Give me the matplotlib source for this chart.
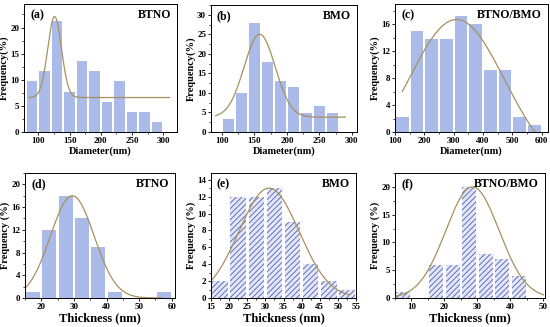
import matplotlib
matplotlib.use("Agg")
import matplotlib.pyplot as plt
import numpy as np
from matplotlib.ticker import AutoMinorLocator

plt.rcParams['font.family'] = ['Liberation Serif', 'DejaVu Serif']
plt.rcParams['font.weight'] = 'bold'
plt.rcParams['hatch.linewidth'] = 0.6

# ---- data ----
# (a) BTNO diameter
a_x = [90, 110, 130, 150, 170, 190, 210, 230, 250, 270, 290]
a_y = [9.7, 11.6, 21.2, 7.7, 13.5, 11.6, 5.8, 9.7, 3.9, 3.9, 1.9]
# (b) BMO diameter
b_x = [110, 130, 150, 170, 190, 210, 230, 250, 270]
b_y = [3.3, 9.9, 27.8, 18.0, 13.1, 11.5, 4.9, 6.6, 4.9]
# (c) BTNO/BMO diameter
c_x = [125, 175, 225, 275, 325, 375, 425, 475, 525, 575]
c_y = [2.3, 15.0, 13.8, 13.8, 17.2, 16.1, 9.2, 9.2, 2.3, 1.1]
# (d) BTNO thickness
d_x = [17.5, 22.5, 27.5, 32.5, 37.5, 42.5, 57.5]
d_y = [1, 12, 18, 14, 9, 1, 1]
# (e) BMO thickness
e_x = [17.5, 22.5, 27.5, 32.5, 37.5, 42.5, 47.5, 52.5]
e_y = [2, 12, 12, 13, 9, 4, 2, 1]
# (f) BTNO/BMO thickness
f_x = [7.5, 17.5, 22.5, 27.5, 32.5, 37.5, 42.5]
f_y = [1, 6, 6, 20, 8, 7, 4]

# gaussian fit parameters: y0, A, xc, sigma, x start, x end
a_fit = [6.6, 15.5, 126, 11, 85, 310]
b_fit = [3.8, 21.2, 158, 24, 90, 290]
c_fit = [-6, 22.7, 310, 164, 125, 600]
d_fit = [0, 18, 29.5, 6.7, 15, 57]
e_fit = [0, 13, 31, 8.3, 15, 53]
f_fit = [0, 20, 28.5, 8.1, 5, 50]

bar_col = '#aabbea'
fit_col = '#a8905e'

fig = plt.figure(figsize=(5.5, 3.27), dpi=100)
W, H = 550.0, 327.0


def make_ax(l, r, t, b):
    return fig.add_axes([l / W, 1 - b / H, (r - l) / W, (b - t) / H])


def draw(ax, x, y, width, fit, xlim, ylim, xticks, yticks, label, name,
         xlabel, ylabel, xlsize, hatch=False):
    if hatch:
        ax.bar(x, y, width=width, color='#e2e6f8', edgecolor='#5060b0',
               hatch='//////', linewidth=0)
    else:
        ax.bar(x, y, width=width, color=bar_col, linewidth=0)
    y0, A, xc, s, x1, x2 = fit
    xx = np.linspace(x1, x2, 300)
    ax.plot(xx, y0 + A * np.exp(-(xx - xc) ** 2 / (2 * s ** 2)),
            color=fit_col, lw=0.9)
    ax.set_xlim(xlim)
    ax.set_ylim(ylim)
    ax.set_xticks(xticks)
    ax.set_yticks(yticks)
    ax.xaxis.set_minor_locator(AutoMinorLocator(2))
    ax.yaxis.set_minor_locator(AutoMinorLocator(2))
    ax.tick_params(labelsize=6.5, length=2.5, width=0.6, pad=1)
    ax.tick_params(which='minor', length=1.5, width=0.5)
    for sp in ax.spines.values():
        sp.set_linewidth(0.7)
    ax.text(0.04, 0.96, label, transform=ax.transAxes, fontsize=8.5,
            fontweight='bold', va='top', ha='left')
    ax.text(0.96, 0.96, name, transform=ax.transAxes, fontsize=8.5,
            fontweight='bold', va='top', ha='right')
    ax.set_xlabel(xlabel, fontsize=xlsize, fontweight='bold', labelpad=1)
    ax.set_ylabel(ylabel, fontsize=7.5, fontweight='bold', labelpad=1)


ax = make_ax(24, 177, 4, 132)
draw(ax, a_x, a_y, 17, a_fit, (77, 322), (0, 24.5), [100, 150, 200, 250, 300],
     [0, 5, 10, 15, 20], '(a)', 'BTNO', 'Diameter(nm)', 'Frequency(%)', 7.5)

ax = make_ax(211, 357, 5, 132)
draw(ax, b_x, b_y, 17, b_fit, (83, 308), (0, 32.5), [100, 150, 200, 250, 300],
     [0, 5, 10, 15, 20, 25, 30], '(b)', 'BMO', 'Diameter(nm)', 'Frequency(%)', 7.5)

ax = make_ax(395, 548, 4, 132)
draw(ax, c_x, c_y, 43, c_fit, (100, 622), (0, 19), [100, 200, 300, 400, 500, 600],
     [0, 4, 8, 12, 16], '(c)', 'BTNO/BMO', 'Diameter(nm)', 'Frequency(%)', 7.5)

ax = make_ax(25, 175, 173, 298)
draw(ax, d_x, d_y, 4.3, d_fit, (15, 61), (0, 22), [20, 30, 40, 50, 60],
     [0, 4, 8, 12, 16, 20], '(d)', 'BTNO', 'Thickness (nm)', 'Frequency (%)', 9)

ax = make_ax(211, 356, 173, 298)
draw(ax, e_x, e_y, 4.3, e_fit, (15, 55), (0, 14.8), list(range(15, 60, 5)),
     list(range(0, 16, 2)), '(e)', 'BMO', 'Thickness (nm)', 'Frequency (%)', 9,
     hatch=True)

ax = make_ax(395, 545, 173, 298)
draw(ax, f_x, f_y, 4.3, f_fit, (5, 50.5), (0, 22.5), [10, 20, 30, 40, 50],
     [0, 5, 10, 15, 20], '(f)', 'BTNO/BMO', 'Thickness (nm)', 'Frequency (%)', 9,
     hatch=True)

fig.savefig('out.png', dpi=100)
